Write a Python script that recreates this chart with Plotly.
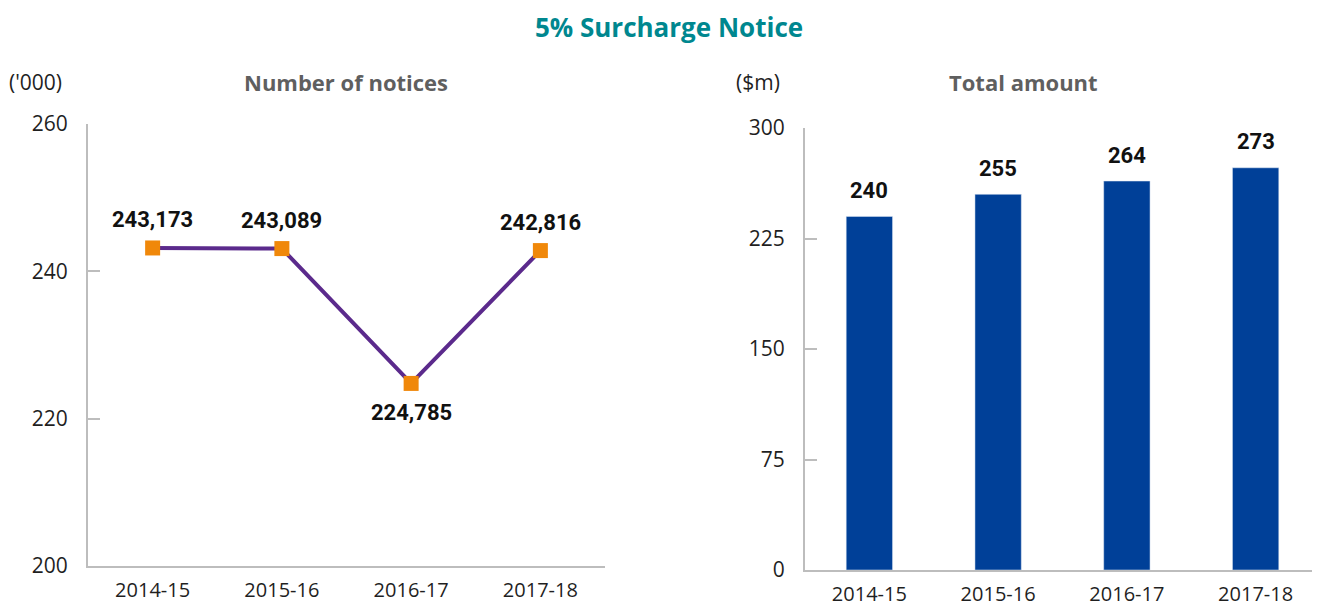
import plotly.graph_objects as go

# data
years = ["2014-15", "2015-16", "2016-17", "2017-18"]
notices_k = [243.173, 243.089, 224.785, 242.816]
notice_labels = ["243,173", "243,089", "224,785", "242,816"]
amount_m = [240, 255, 264, 273]

PURPLE = "#5b2a8c"
ORANGE = "#f0880a"
BLUE = "#004098"
TEAL = "#00878f"
AXIS_GREY = "#bdbdbd"
TICK_FONT = dict(family="Open Sans", size=21, color="#1f1f1f")
LABEL_FONT = dict(family="Roboto", size=22, color="#111111", weight="bold")

# the page body adds an 8px margin, so the figure is drawn 8px smaller
W, H, OFF = 1312, 598, 8


def fx(px):
    return (px - OFF) / W


def fy(py):
    return 1 - (py - OFF) / H


fig = go.Figure()

fig.add_trace(
    go.Scatter(
        x=years,
        y=notices_k,
        mode="lines+markers",
        line=dict(color=PURPLE, width=4),
        marker=dict(symbol="square", size=15, color=ORANGE),
        xaxis="x",
        yaxis="y",
        hoverinfo="skip",
    )
)

fig.add_trace(
    go.Bar(
        x=years,
        y=amount_m,
        marker=dict(color=BLUE),
        width=0.36,
        xaxis="x2",
        yaxis="y2",
        hoverinfo="skip",
    )
)

# point labels on the line chart
for yr, val, lab in zip(years, notices_k, notice_labels):
    below = val < 230
    fig.add_annotation(
        x=yr, y=val, xref="x", yref="y",
        text=lab, showarrow=False,
        font=LABEL_FONT,
        yshift=-29 if below else 28,
    )

# value labels above bars
for yr, val in zip(years, amount_m):
    fig.add_annotation(
        x=yr, y=val, xref="x2", yref="y2",
        text=str(val), showarrow=False,
        font=LABEL_FONT, yshift=26,
    )

common_x = dict(
    type="category",
    range=[-0.5, len(years) - 0.5],
    showline=True,
    linecolor=AXIS_GREY,
    linewidth=2,
    ticks="",
    showgrid=False,
    tickfont=dict(TICK_FONT, size=20),
    ticklabelstandoff=5,
)
common_y = dict(
    showline=True,
    linecolor=AXIS_GREY,
    linewidth=2,
    ticks="inside",
    ticklen=12,
    tickcolor=AXIS_GREY,
    tickwidth=2,
    showgrid=False,
    zeroline=False,
    tickfont=TICK_FONT,
    ticklabelstandoff=14,
)

fig.update_layout(
    width=W,
    height=H,
    margin=dict(l=0, r=0, t=0, b=0, autoexpand=False),
    paper_bgcolor="white",
    plot_bgcolor="white",
    showlegend=False,
    xaxis=dict(domain=[fx(88), fx(605)], anchor="y", **common_x),
    yaxis=dict(domain=[fy(566), fy(124)], anchor="x", range=[200, 260],
               tickvals=[200, 220, 240, 260], **common_y),
    xaxis2=dict(domain=[fx(805), 1.0], anchor="y2", **common_x),
    yaxis2=dict(domain=[fy(570), fy(128)], anchor="x2", range=[0, 300],
                tickvals=[0, 75, 150, 225, 300], **common_y),
    title=dict(
        text="<b>5% Surcharge Notice</b>",
        x=fx(669), xanchor="center", y=fy(28), yanchor="middle",
        font=dict(family="Open Sans", size=26, color=TEAL),
    ),
)

# panel titles and unit labels
for txt, x, bold in [("Number of notices", 346, True), ("Total amount", 1023, True),
                     ("('000)", 35, False), ("($m)", 758, False)]:
    fig.add_annotation(
        xref="paper", yref="paper", x=fx(x), y=fy(82),
        xanchor="center", yanchor="middle",
        text=f"<b>{txt}</b>" if bold else txt, showarrow=False,
        font=dict(family="Open Sans", size=22 if bold else 21,
                  color="#5f5f5f" if bold else "#1f1f1f"),
    )

fig.write_html("out.html")
